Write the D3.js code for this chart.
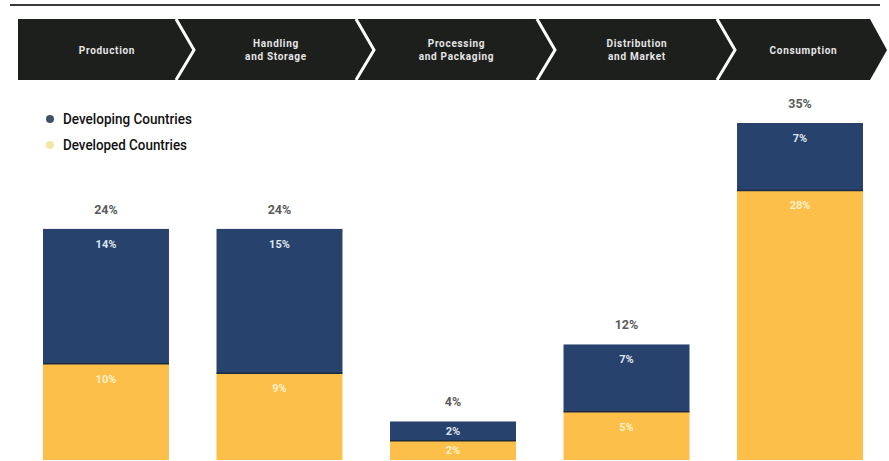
<!DOCTYPE html>
<html><head><meta charset="utf-8">
<script src="https://cdn.jsdelivr.net/npm/d3@7/dist/d3.min.js"></script>
<style>body{margin:0;background:#fff}svg{display:block}</style>
</head><body><svg id="c" width="889" height="461"></svg>
<script>
const stages = ["Production", "Handling and Storage", "Processing and Packaging", "Distribution and Market", "Consumption"];
const stageLines = [["Production"], ["Handling", "and Storage"], ["Processing", "and Packaging"], ["Distribution", "and Market"], ["Consumption"]];
const developing = [14, 15, 2, 7, 7];
const developed = [10, 9, 2, 5, 28];
const totals = [24, 24, 4, 12, 35];
const seriesNames = ["Developing Countries", "Developed Countries"];

const blue = "#27426d", yellow = "#fcc04a";
const font = "Liberation Sans Narrow, Arial Narrow, Roboto, sans-serif";
const svg = d3.select("#c");

// top rule
svg.append("line").attr("x1", 10).attr("x2", 880).attr("y1", 5).attr("y2", 5)
  .attr("stroke", "#3a3a3a").attr("stroke-width", 2);

// header chevron band
const hTop = 19, hBot = 80, hMid = 50, tip = 18;
const seps = [18, 176, 356, 537, 717, 870];
svg.append("path")
  .attr("d", `M${seps[0]},${hTop}L${seps[5]},${hTop}L${seps[5] + tip - 1},${hMid}L${seps[5]},${hBot}L${seps[0]},${hBot}Z`)
  .attr("fill", "#1d1f1d");
for (let i = 1; i < 5; i++) {
  const xs = seps[i];
  svg.append("path")
    .attr("d", `M${xs},${hTop}L${xs + tip},${hMid}L${xs},${hBot}`)
    .attr("fill", "none").attr("stroke", "#fff").attr("stroke-width", 3);
}
stageLines.forEach((lines, i) => {
  const cx = (seps[i] + seps[i + 1]) / 2 + 10;
  const two = lines.length > 1;
  lines.forEach((l, j) => {
    svg.append("text").attr("x", cx).attr("text-anchor", "middle")
      .attr("y", two ? hMid - 3 + j * 12.5 : hMid + 3.5)
      .attr("fill", "#e6e6e6").attr("font-family", font)
      .attr("font-weight", "bold").attr("font-size", 10).attr("letter-spacing", 0.7)
      .text(l);
  });
});

// legend
const legendColors = ["#3e5169", "#f3e7a4"];
const legendW = [129, 124];
seriesNames.forEach((name, i) => {
  const cy = 119 + i * 26;
  svg.append("circle").attr("cx", 50).attr("cy", cy).attr("r", 4).attr("fill", legendColors[i]);
  svg.append("text").attr("x", 63).attr("y", cy + 5).text(name)
    .attr("font-family", font).attr("font-size", 14.5).attr("fill", "#111").attr("font-weight", 500)
    .attr("textLength", legendW[i]).attr("lengthAdjust", "spacingAndGlyphs");
});

// scales
const x = d3.scaleBand().domain(stages).range([43, 863]).paddingInner(0.274).paddingOuter(0);
const y = d3.scaleLinear().domain([0, 35]).range([460, 123]);

const rows = stages.map((s, i) => ({ stage: s, dev: developing[i], dvd: developed[i], total: totals[i] }));

const g = svg.append("g");
rows.forEach(r => {
  const x0 = x(r.stage), w = x.bandwidth();
  g.append("rect").attr("x", x0).attr("width", w)
    .attr("y", y(r.dvd)).attr("height", y(0) - y(r.dvd)).attr("fill", yellow);
  g.append("rect").attr("x", x0).attr("width", w)
    .attr("y", y(r.dvd + r.dev)).attr("height", y(r.dvd) - y(r.dvd + r.dev)).attr("fill", blue);
  g.append("line").attr("x1", x0).attr("x2", x0 + w).attr("y1", y(r.dvd)).attr("y2", y(r.dvd))
    .attr("stroke", "#1c2a40").attr("stroke-width", 1.5);
  const cx = x0 + w / 2;
  const small = r.total < 6;
  g.append("text").attr("x", cx).attr("y", y(r.dvd + r.dev) + (small ? 14 : 19))
    .attr("text-anchor", "middle").attr("fill", "#dfe6f0").attr("font-weight", "bold")
    .attr("font-family", font).attr("font-size", 11)
    .text(r.dev + "%");
  g.append("text").attr("x", cx).attr("y", y(r.dvd) + (small ? 13 : 19))
    .attr("text-anchor", "middle").attr("fill", "#fff0c8").attr("font-weight", "bold")
    .attr("font-family", font).attr("font-size", 11)
    .text(r.dvd + "%");
  g.append("text").attr("x", cx).attr("y", y(r.total) - 15)
    .attr("text-anchor", "middle").attr("fill", "#5a5a5a").attr("font-weight", "bold")
    .attr("font-family", font).attr("font-size", 12.5)
    .text(r.total + "%");
});
</script></body></html>
